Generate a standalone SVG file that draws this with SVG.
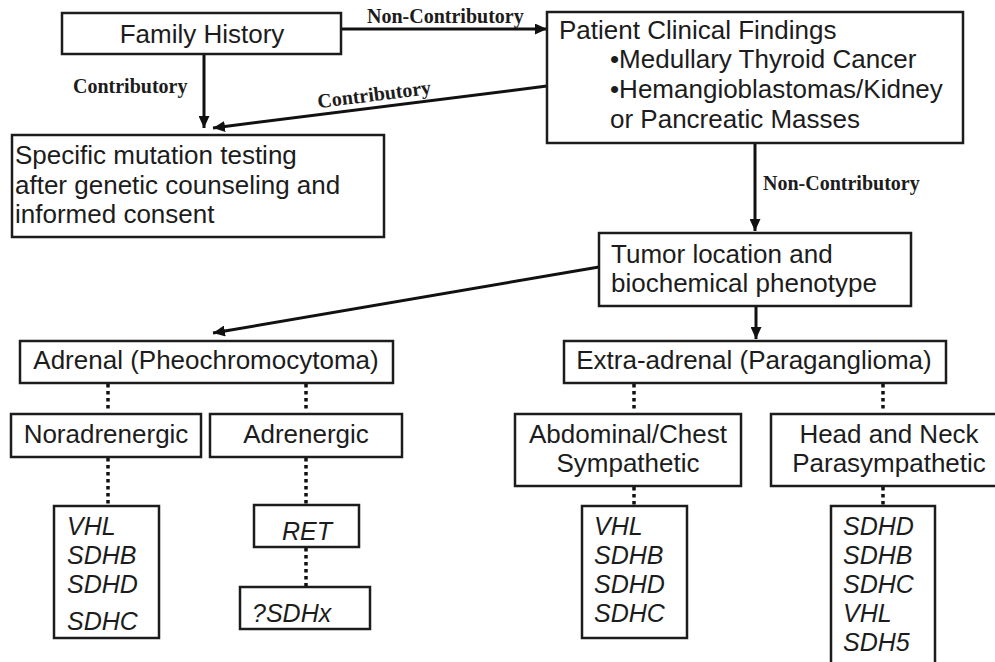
<svg xmlns="http://www.w3.org/2000/svg" width="995" height="662" viewBox="0 0 995 662">
<style>
.box{fill:#fff;stroke:#1c1c1c;stroke-width:2.5}
.t{font-family:"Liberation Sans",Arial,sans-serif;font-size:26px;fill:#1c1c1c}
.g{font-family:"Liberation Sans",Arial,sans-serif;font-size:25px;font-style:italic;fill:#1c1c1c}
.lbl{font-family:"Liberation Serif","Times New Roman",serif;font-size:20px;font-weight:bold;fill:#1c1c1c}
.arrow{fill:none;stroke:#111;stroke-width:3;marker-end:url(#arr)}
.dot{fill:none;stroke:#111;stroke-width:3.5;stroke-dasharray:3.5 3.5}
</style>
<defs>
<marker id="arr" markerWidth="12" markerHeight="11" refX="12" refY="5.5" orient="auto" markerUnits="userSpaceOnUse">
<path d="M0,0 L12,5.5 L0,11 z" fill="#111"/>
</marker>
</defs>
<rect width="995" height="662" fill="#fff"/>

<g id="connectors">
<path class="arrow" d="M341,29 L547,29"/>
<path class="arrow" d="M204,54 L204,128"/>
<path class="arrow" d="M547,86 L213,128"/>
<path class="arrow" d="M755,143 L755,231"/>
<path class="arrow" d="M599,267 L213,333"/>
<path class="arrow" d="M756,306 L756,339"/>
<path class="dot" d="M108,384 L108,411"/>
<path class="dot" d="M306,384 L306,411"/>
<path class="dot" d="M108,458 L108,504"/>
<path class="dot" d="M306,458 L306,504"/>
<path class="dot" d="M306,548 L306,586"/>
<path class="dot" d="M634,384 L634,411"/>
<path class="dot" d="M883,384 L883,411"/>
<path class="dot" d="M634,487 L634,505"/>
<path class="dot" d="M883,487 L883,505"/>
<text class="lbl" x="367" y="23">Non-Contributory</text>
<text class="lbl" x="73" y="93">Contributory</text>
<text class="lbl" x="375" y="101" text-anchor="middle" transform="rotate(-7.2 375 101)">Contributory</text>
<text class="lbl" x="763" y="190">Non-Contributory</text>
</g>

<g id="family-history">
<rect class="box" x="62" y="13" width="279" height="41"/>
<text class="t" x="202" y="43" text-anchor="middle">Family History</text>
</g>

<g id="patient-findings">
<rect class="box" x="547" y="12" width="416" height="131"/>
<text class="t" x="559" y="39">Patient Clinical Findings</text>
<text class="t" x="610" y="68">•Medullary Thyroid Cancer</text>
<text class="t" x="610" y="98">•Hemangioblastomas/Kidney</text>
<text class="t" x="610" y="128">or Pancreatic Masses</text>
</g>

<g id="mutation-testing">
<rect class="box" x="12" y="135" width="372" height="102"/>
<text class="t" x="15" y="164">Specific mutation testing</text>
<text class="t" x="15" y="194">after genetic counseling and</text>
<text class="t" x="15" y="223">informed consent</text>
</g>

<g id="tumor-location">
<rect class="box" x="599" y="233" width="312" height="73"/>
<text class="t" x="611" y="263">Tumor location and</text>
<text class="t" x="611" y="292">biochemical phenotype</text>
</g>

<g id="adrenal">
<rect class="box" x="20" y="341" width="373" height="42"/>
<text class="t" x="206" y="369" text-anchor="middle">Adrenal (Pheochromocytoma)</text>
</g>

<g id="extra-adrenal">
<rect class="box" x="564" y="341" width="382" height="42"/>
<text class="t" x="754" y="369" text-anchor="middle">Extra-adrenal (Paraganglioma)</text>
</g>

<g id="noradrenergic">
<rect class="box" x="11" y="414" width="190" height="43"/>
<text class="t" x="106" y="443" text-anchor="middle">Noradrenergic</text>
</g>

<g id="adrenergic">
<rect class="box" x="210" y="414" width="192" height="43"/>
<text class="t" x="306" y="443" text-anchor="middle">Adrenergic</text>
</g>

<g id="abdominal-chest">
<rect class="box" x="515" y="414" width="226" height="72"/>
<text class="t" x="628" y="443" text-anchor="middle">Abdominal/Chest</text>
<text class="t" x="628" y="472" text-anchor="middle">Sympathetic</text>
</g>

<g id="head-neck">
<rect class="box" x="771" y="414" width="240" height="72"/>
<text class="t" x="889" y="443" text-anchor="middle">Head and Neck</text>
<text class="t" x="889" y="472" text-anchor="middle">Parasympathetic</text>
</g>

<g id="genes-noradrenergic">
<rect class="box" x="54" y="506" width="105" height="132"/>
<text class="g" x="67" y="535">VHL</text>
<text class="g" x="67" y="564">SDHB</text>
<text class="g" x="67" y="593">SDHD</text>
<text class="g" x="67" y="630">SDHC</text>
</g>

<g id="genes-ret">
<rect class="box" x="254" y="505" width="105" height="42"/>
<text class="g" x="282" y="540">RET</text>
</g>

<g id="genes-sdhx">
<rect class="box" x="240" y="587" width="130" height="42"/>
<text class="g" x="252" y="622">?SDHx</text>
</g>

<g id="genes-abdominal">
<rect class="box" x="582" y="506" width="105" height="132"/>
<text class="g" x="594" y="535">VHL</text>
<text class="g" x="594" y="564">SDHB</text>
<text class="g" x="594" y="593">SDHD</text>
<text class="g" x="594" y="622">SDHC</text>
</g>

<g id="genes-head-neck">
<rect class="box" x="831" y="506" width="104" height="170"/>
<text class="g" x="843" y="535">SDHD</text>
<text class="g" x="843" y="564">SDHB</text>
<text class="g" x="843" y="593">SDHC</text>
<text class="g" x="843" y="622">VHL</text>
<text class="g" x="843" y="651">SDH5</text>
</g>
</svg>
